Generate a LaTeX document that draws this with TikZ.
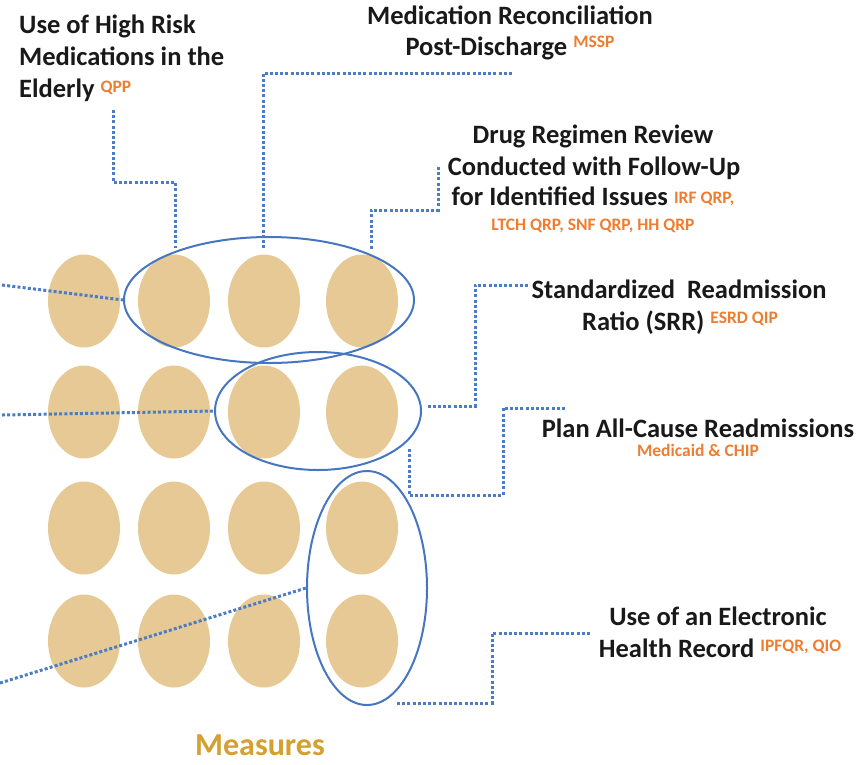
\documentclass[tikz,border=0pt]{standalone}
\usepackage{fontspec}
\setmainfont{Carlito}
\usetikzlibrary{shapes.geometric}
\definecolor{tanc}{RGB}{230,201,148}
\definecolor{bline}{RGB}{70,118,192}
\definecolor{dotc}{RGB}{75,125,198}
\definecolor{sorange}{RGB}{237,125,49}
\definecolor{goldc}{RGB}{212,160,48}
\newcommand\supr[2][6pt]{\raisebox{#1}{\fontsize{17.5}{18}\selectfont\color{sorange}#2}}
\begin{document}
\begin{tikzpicture}[x=1pt,y=-1pt,
  bead/.style={ellipse,fill=tanc,minimum width=72pt,minimum height=93pt,inner sep=0pt},
  grp/.style={ellipse,draw=bline,line width=2pt,inner sep=0pt},
  link/.style={draw=dotc,line width=3pt,dash pattern=on 3pt off 2.2pt},
  lbl/.style={inner sep=0pt,font=\fontsize{26.5}{32}\selectfont\bfseries,text=black!90},
  subl/.style={inner sep=0pt,font=\fontsize{17.5}{18}\selectfont\bfseries,text=sorange}]
\useasboundingbox (0,0) rectangle (866,764);
% beads
\foreach \r/\y in {1/301,2/412,3/528,4/641}{
  \foreach \c/\x in {1/84,2/174,3/264,4/362}{
    \node[bead] (b\r\c) at (\x,\y) {};
  }
}
% group ellipses
\node[grp,minimum width=290pt,minimum height=126pt] (g1) at (269,300) {};
\node[grp,minimum width=206pt,minimum height=118pt] (g2) at (318,411) {};
\node[grp,minimum width=120pt,minimum height=234pt] (g3) at (367,588) {};
% labels
\node[lbl,anchor=base west] (t1a) at (19,33) {Use of High Risk};
\node[lbl,anchor=base west] (t1b) at (19,65) {Medications in the};
\node[lbl,anchor=base west] (t1c) at (19,97) {Elderly \supr[5pt]{QPP}};
\node[lbl,anchor=base] (t2a) at (510,24) {Medication Reconciliation};
\node[lbl,anchor=base] (t2b) at (510,55) {Post-Discharge \supr[8pt]{MSSP}};
\node[lbl,anchor=base] (t3a) at (593,143) {Drug Regimen Review};
\node[lbl,anchor=base] (t3b) at (594,175) {Conducted with Follow-Up};
\node[lbl,anchor=base] (t3c) at (593,205) {for Identified Issues \supr[2pt]{IRF QRP,}};
\node[subl,anchor=base] (t3d) at (593,230) {LTCH QRP, SNF QRP, HH QRP};
\node[lbl,anchor=base] (t4a) at (679,298) {Standardized\ \ Readmission};
\node[lbl,anchor=base] (t4b) at (680,330) {Ratio (SRR) \supr[7pt]{ESRD QIP}};
\node[lbl,anchor=base] (t5a) at (698,437) {Plan All-Cause Readmissions};
\node[subl,anchor=base] (t5b) at (698,456) {Medicaid \& CHIP};
\node[lbl,anchor=base] (t6a) at (718,625) {Use of an Electronic};
\node[lbl,anchor=base] (t6b) at (720,657) {Health Record \supr[6pt]{IPFQR, QIO}};
\node[inner sep=0pt,anchor=base,font=\fontsize{32}{36}\selectfont\bfseries,text=goldc] (meas) at (260,755) {Measures};
% connector ends
\coordinate (a0) at (113,110); \coordinate (a1) at (175,248);
\coordinate (c0) at (512,73);  \coordinate (c1) at (263,250);
\coordinate (d0) at (438,167); \coordinate (d1) at (371,250);
\coordinate (s0) at (528,285); \coordinate (s1) at (427,406);
\coordinate (p0) at (565,408); \coordinate (p1) at (409,447);
\coordinate (h0) at (590,633); \coordinate (h1) at (395,703);
\coordinate (l1) at (2,285);
\coordinate (l2) at (2,415);
\coordinate (l3) at (0,683);
% connectors
\draw[link] (a0) -- ++(0,72) -| (a1);
\draw[link] (c0) -| (c1);
\draw[link] (d0) -- ++(0,43) -| (d1);
\draw[link] (s0) -- ++(-53,0) |- (s1);
\draw[link] (p0) -- ++(-62,0) -- ++(0,87) -| (p1);
\draw[link] (h0) -- ++(-98,0) |- (h1);
\draw[link] (l1) -- (g1.west);
\draw[link] (l2) -- (g2.west);
\draw[link] (l3) -- (g3.west);
\end{tikzpicture}
\end{document}
